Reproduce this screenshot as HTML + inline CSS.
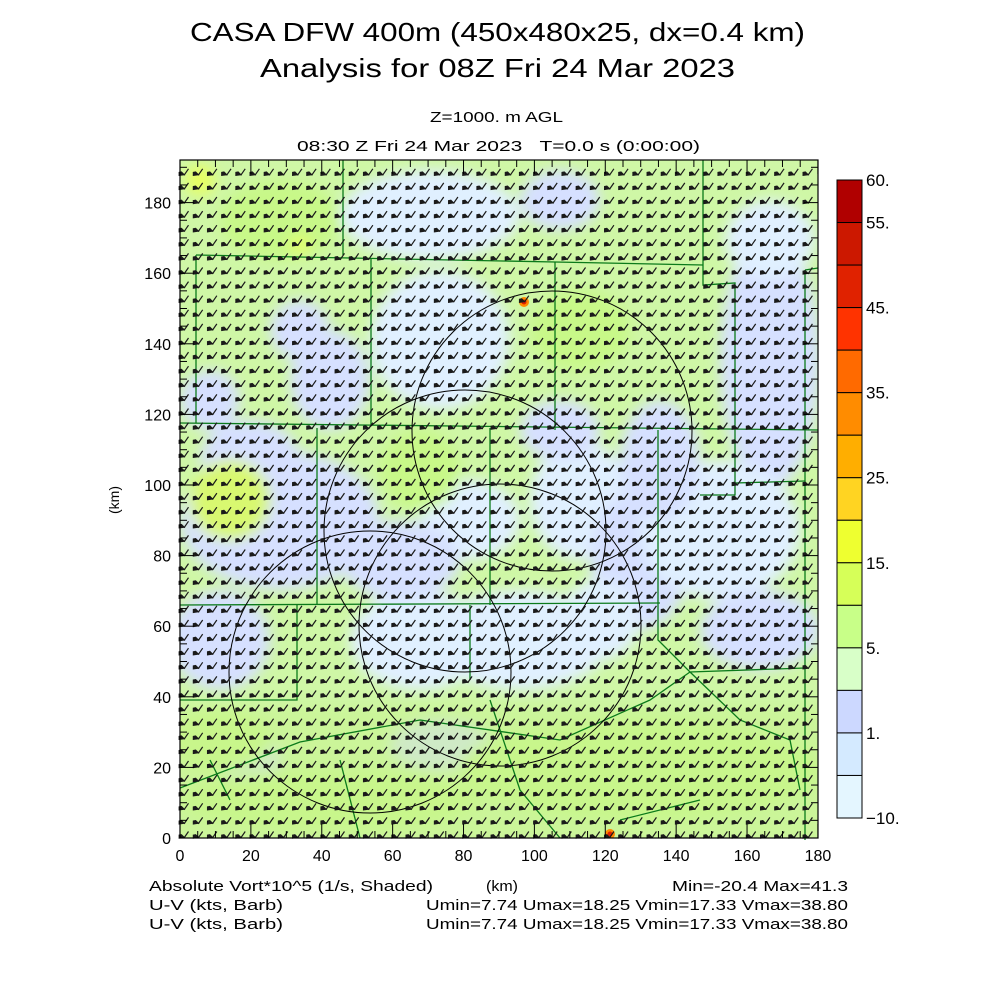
<!DOCTYPE html>
<html><head><meta charset="utf-8"><style>
html,body{margin:0;padding:0;background:#fff;width:1000px;height:1000px;overflow:hidden}
svg{display:block}
text{font-family:"Liberation Sans",sans-serif;fill:#000}
</style></head><body>
<svg id="s" width="1000" height="1000" xmlns="http://www.w3.org/2000/svg">
<defs>
<filter id="bl" x="-20%" y="-20%" width="140%" height="140%"><feGaussianBlur stdDeviation="7"/></filter>
<clipPath id="pc"><rect x="180" y="160" width="638" height="678"/></clipPath>
</defs>
<text x="190" y="41" font-size="26" textLength="615" lengthAdjust="spacingAndGlyphs">CASA DFW 400m (450x480x25, dx=0.4 km)</text>
<text x="260" y="77" font-size="26" textLength="475" lengthAdjust="spacingAndGlyphs">Analysis for 08Z Fri 24 Mar 2023</text>
<text x="430" y="122" font-size="15" textLength="133" lengthAdjust="spacingAndGlyphs">Z=1000. m AGL</text>
<text x="297" y="151" font-size="15" textLength="403" lengthAdjust="spacingAndGlyphs" xml:space="preserve">08:30 Z Fri 24 Mar 2023   T=0.0 s (0:00:00)</text>
<g clip-path="url(#pc)">
<rect x="180" y="160" width="638" height="678" fill="#cff7a6"/>
<g filter="url(#bl)" id="field"></g>
<circle cx="524" cy="302" r="5" fill="#ff8800"/><circle cx="524" cy="302" r="2.5" fill="#e02000"/>
<circle cx="610" cy="834" r="5" fill="#ff8800"/><circle cx="610" cy="834" r="2.5" fill="#e02000"/>
</g>
<g id="lines" fill="none" stroke="#0a7a1a" stroke-width="1.3"></g>
<g fill="none" stroke="#000" stroke-width="1">
<circle cx="552" cy="431" r="140"/>
<circle cx="465" cy="531" r="141"/>
<circle cx="500" cy="625" r="141"/>
<circle cx="370" cy="672" r="141"/>
</g>
<g id="barbs" fill="#1a1a1a" stroke="#1a1a1a"></g>
<rect x="180" y="160" width="638" height="678" fill="none" stroke="#000" stroke-width="1.2"/>
<g id="ticks" stroke="#000" stroke-width="1"></g>
<g id="lab" font-size="16"></g>
<g id="cb"></g>
<text x="149" y="891" font-size="15" textLength="284" lengthAdjust="spacingAndGlyphs">Absolute Vort*10^5 (1/s, Shaded)</text>
<text x="149" y="910" font-size="15" fill="#333" textLength="134" lengthAdjust="spacingAndGlyphs">U-V (kts, Barb)</text>
<text x="149" y="929" font-size="15" fill="#333" textLength="134" lengthAdjust="spacingAndGlyphs">U-V (kts, Barb)</text>
<text x="486" y="891" font-size="15" textLength="32" lengthAdjust="spacingAndGlyphs">(km)</text>
<text x="672" y="891" font-size="15" textLength="176" lengthAdjust="spacingAndGlyphs">Min=-20.4 Max=41.3</text>
<text x="426" y="910" font-size="15" fill="#333" textLength="422" lengthAdjust="spacingAndGlyphs">Umin=7.74 Umax=18.25 Vmin=17.33 Vmax=38.80</text>
<text x="426" y="929" font-size="15" fill="#333" textLength="422" lengthAdjust="spacingAndGlyphs">Umin=7.74 Umax=18.25 Vmin=17.33 Vmax=38.80</text>
<text x="119" y="500" font-size="14" text-anchor="middle" transform="rotate(-90 119 500)">(km)</text>
</svg>
<script>
var NS="http://www.w3.org/2000/svg";
function el(p,t,a){var e=document.createElementNS(NS,t);for(var k in a)e.setAttribute(k,a[k]);document.getElementById(p).appendChild(e);return e;}
var B="#d6e0ff",C="#e0f0ff",G="#c8f888",Y="#d8f870";
var blues=[[430,215,90,45,C],[560,200,40,30,B],[330,380,40,50,B],[440,340,70,70,C],[280,520,100,70,B],[220,640,50,50,B],
[580,500,50,60,C],[640,560,50,70,B],[770,360,50,130,B],[720,530,80,70,C],[760,630,60,40,B],
[520,640,90,50,C],[420,640,70,50,C],[300,330,30,30,B],[250,460,50,40,B],[440,745,50,25,B],
[250,760,30,25,B],[770,240,45,40,C],[660,460,40,60,B],[470,520,50,40,C],[210,400,30,30,B],[400,560,60,40,B],[600,620,40,40,C],[560,430,40,30,B]];
var greens=[[280,220,60,40,G],[230,500,40,40,Y],[420,470,40,40,G],[640,770,180,50,G],[330,800,150,30,G],[220,740,50,30,G],[580,330,50,40,G],[200,180,15,15,"#e8ff60"],[300,245,10,8,"#e8ff60"]];
blues.concat(greens).forEach(function(b){el("field","ellipse",{cx:b[0],cy:b[1],rx:b[2],ry:b[3],fill:b[4]});});
el("field","rect",{x:170,y:705,width:660,height:140,fill:"#c8f38e",opacity:0.5});
var L=["M180 423 L818 430","M343 160 L343 255","M196 255 L555 262 L703 265","M196 255 L196 423","M371 258 L371 425","M555 262 L555 430",
"M703 160 L703 285 L735 283 L735 495 L700 495","M735 483 L805 481","M805 270 L818 268","M805 270 L805 840",
"M317 428 L317 605","M180 605 L660 603","M490 428 L490 605","M658 430 L658 640 L690 672 L805 668","M297 605 L297 700 L180 700",
"M470 605 L470 680","M180 788 L300 742 L420 720 L560 740 L650 700 L690 672","M690 672 L740 720 L790 740 L800 790","M490 700 L520 790 L560 838",
"M210 760 L230 800","M340 760 L360 838","M620 820 L700 800"];
L.forEach(function(d){el("lines","path",{d:d});});
var dx=14.18,dy=14.1;
for(var j=0;j<48;j++){var y=838-j*dy;if(y<168)break;
 for(var i=0;i<45;i++){var x=183+i*dx;if(x>818)break;
  var bx=x+1,by=y;
  el("barbs","path",{d:"M"+(bx+4.5)+" "+(by-6.5)+" L"+bx+" "+by,"stroke-width":1.2,fill:"none"});
  el("barbs","path",{d:"M"+(bx-5)+" "+(by-3)+" L"+(bx-2.5)+" "+(by-3.5)+" L"+(bx+0.5)+" "+(by-0.5)+" L"+(bx-5)+" "+(by+0.3)+"Z","stroke-width":0.8});
 }}
for(var k=0;k<=180;k+=5){var X=180+k*3.544;var len=(k%20==0)?14:7;
 el("ticks","line",{x1:X,y1:838,x2:X,y2:838-len});el("ticks","line",{x1:X,y1:160,x2:X,y2:160+len});}
for(var k=0;k<=190;k+=5){var Y=838-k*3.53;if(Y<160)break;var len=(k%20==0)?14:7;
 el("ticks","line",{x1:180,y1:Y,x2:180+len,y2:Y});el("ticks","line",{x1:818,y1:Y,x2:818-len,y2:Y});}
for(var k=0;k<=180;k+=20){var t=el("lab","text",{x:180+k*3.544,y:861,"text-anchor":"middle"});t.textContent=k;}
for(var k=0;k<=180;k+=20){var t=el("lab","text",{x:171,y:844-k*3.53,"text-anchor":"end"});t.textContent=k;}
var cols=["#b00000","#cc1800","#e02200","#ff3300","#ff6a00","#ff8c00","#ffae00","#ffd422","#eeff30","#d6ff58","#c8ff88","#d8ffc8","#ccd8ff","#d4eaff","#e4f6ff"];
var h=638/15;
cols.forEach(function(c,i){el("cb","rect",{x:837,y:180+i*h,width:25,height:h,fill:c,stroke:"#000","stroke-width":1});});
var labs=[["60.",0],["55.",1],["45.",3],["35.",5],["25.",7],["15.",9],["5.",11],["1.",13],["\u221210.",15]];
labs.forEach(function(l){var t=el("cb","text",{x:866,y:180+l[1]*h+6,"font-size":17});t.textContent=l[0];});
</script>
</body></html>
